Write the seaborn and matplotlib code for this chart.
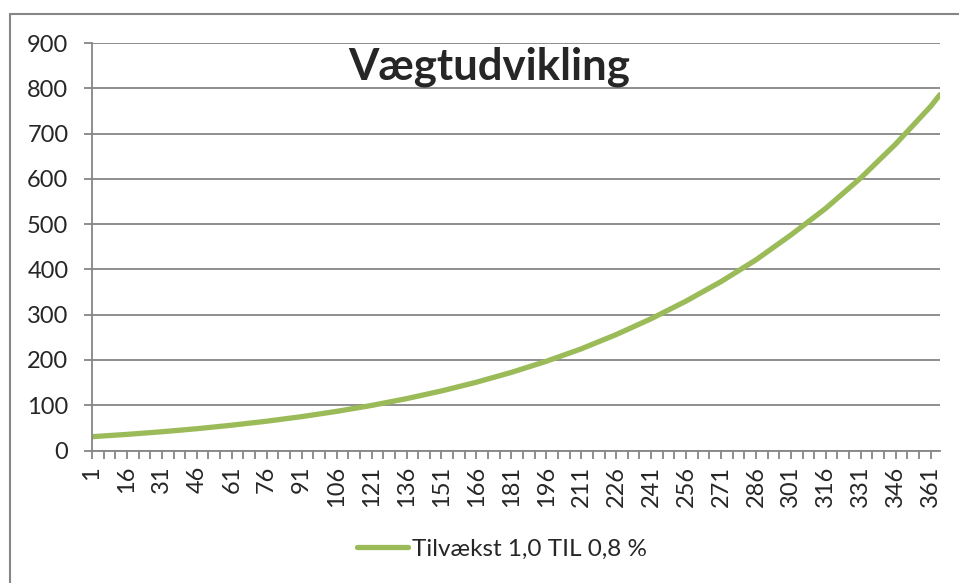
import pandas as pd
import matplotlib
matplotlib.use('Agg')
import matplotlib.pyplot as plt
import seaborn as sns
from matplotlib.lines import Line2D
from matplotlib.ticker import MultipleLocator, FixedLocator

# days (one point per labelled category) and weight
days = [1, 16, 31, 46, 61, 76, 91, 106, 121, 136, 151, 166, 181,
        196, 211, 226, 241, 256, 271, 286, 301, 316, 331, 346, 361, 365]
weight = [30.5, 35.6, 41.4, 48.1, 55.9, 64.7, 74.8, 86.4, 99.5, 114.5, 131.5, 150.8, 172.5,
          197.0, 224.5, 256.0, 291.0, 330.0, 373.0, 421.0, 476.0, 535.0, 602.0, 677.0, 760.0, 786.0]
series_name = 'Tilvækst 1,0 TIL 0,8 %'
title = 'Vægtudvikling'

df = pd.DataFrame({'dag': days, 'vaegt': weight})

sns.set_style('white')
plt.rcParams['font.family'] = ['Lato', 'DejaVu Sans']

GRID = '#868686'
GREEN = '#9BBB59'

fig = plt.figure(figsize=(9.59, 5.83), dpi=100)
ax = fig.add_axes([92 / 959, 1 - 450.5 / 583, (940 - 92) / 959, (450.5 - 43) / 583])

sns.lineplot(data=df, x='dag', y='vaegt', color=GREEN, linewidth=3.8, ax=ax,
             solid_capstyle='round', legend=False)

ax.set_xlim(1, 365)
ax.set_ylim(0, 900)
ax.yaxis.set_major_locator(MultipleLocator(100))
ax.xaxis.set_major_locator(FixedLocator(list(range(1, 362, 15))))
ax.xaxis.set_minor_locator(FixedLocator(list(range(1, 366, 5))))
ax.set_xticklabels([str(d) for d in range(1, 362, 15)], rotation=90)

ax.grid(axis='y', color=GRID, linewidth=1.3)
ax.set_axisbelow(True)
for side in ['top', 'right']:
    ax.spines[side].set_visible(False)
for side in ['left', 'bottom']:
    ax.spines[side].set_color(GRID)
    ax.spines[side].set_linewidth(1.3)

ax.tick_params(axis='y', which='major', direction='out', length=6, width=1.3,
               color=GRID, labelsize=17, pad=11, left=True)
ax.tick_params(axis='x', which='both', direction='out', length=6, width=1.3,
               color=GRID, labelsize=17, pad=5, bottom=True)
ax.set_xlabel('')
ax.set_ylabel('')

fig.text(489 / 959, 1 - 67 / 583, title, fontsize=31.5, fontweight='bold',
         ha='center', va='center')

handle = Line2D([], [], color=GREEN, linewidth=3.8)
fig.legend([handle], [series_name], loc='center', bbox_to_anchor=(502 / 959, 1 - 549 / 583),
           frameon=False, fontsize=17.5, handlelength=2.1, handletextpad=0.2)

# outer chart frame (top and left edges visible in the crop)
fig.add_artist(Line2D([10 / 959, 1], [1 - 14 / 583, 1 - 14 / 583], color=GRID, linewidth=1.5,
                      transform=fig.transFigure))
fig.add_artist(Line2D([10 / 959, 10 / 959], [0, 1 - 14 / 583], color=GRID, linewidth=1.5,
                      transform=fig.transFigure))

fig.savefig('out.png', dpi=100)
